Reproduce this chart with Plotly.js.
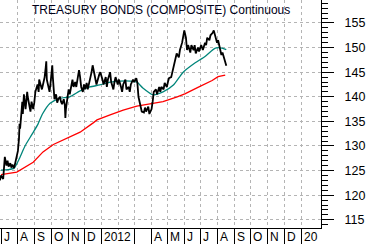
<!DOCTYPE html>
<html>
<head>
<meta charset="utf-8">
<script src="https://cdn.plot.ly/plotly-3.0.1.min.js"></script>
<style>html,body{margin:0;padding:0;background:#fff;}#chart{width:371px;height:244px;}</style>
</head>
<body>
<div id="chart"></div>
<script>
const chartTitle = 'TREASURY BONDS (COMPOSITE) Continuous';

const monthStarts = ['2011-07-01','2011-08-01','2011-09-01','2011-10-01','2011-11-01','2011-12-01',
  '2012-01-01','2012-02-01','2012-03-01','2012-04-01','2012-05-01','2012-06-01','2012-07-01',
  '2012-08-01','2012-09-01','2012-10-01','2012-11-01','2012-12-01','2013-01-01'];
const monthLabels = ['J','A','S','O','N','D','2012','','','A','M','J','J','A','S','O','N','D','20'];

const priceDates = ['2011-06-29','2011-07-01','2011-07-05','2011-07-07','2011-07-08','2011-07-11','2011-07-13','2011-07-15',
  '2011-07-18','2011-07-20','2011-07-22','2011-07-25','2011-07-27','2011-07-29','2011-08-01','2011-08-03','2011-08-04',
  '2011-08-05','2011-08-08','2011-08-09','2011-08-10','2011-08-11','2011-08-12','2011-08-15','2011-08-16','2011-08-18',
  '2011-08-19','2011-08-22','2011-08-24','2011-08-26','2011-08-29','2011-08-31','2011-09-02','2011-09-06','2011-09-08',
  '2011-09-09','2011-09-12','2011-09-14','2011-09-16','2011-09-19','2011-09-21','2011-09-22','2011-09-23','2011-09-26',
  '2011-09-28','2011-09-30','2011-10-03','2011-10-04','2011-10-05','2011-10-07','2011-10-10','2011-10-12','2011-10-14',
  '2011-10-17','2011-10-19','2011-10-21','2011-10-24','2011-10-26','2011-10-27','2011-10-28','2011-10-31','2011-11-02',
  '2011-11-04','2011-11-07','2011-11-09','2011-11-11','2011-11-14','2011-11-16','2011-11-18','2011-11-21','2011-11-23',
  '2011-11-25','2011-11-28','2011-11-30','2011-12-02','2011-12-05','2011-12-07','2011-12-09','2011-12-12','2011-12-14',
  '2011-12-16','2011-12-19','2011-12-21','2011-12-23','2011-12-28','2011-12-30','2012-01-03','2012-01-05','2012-01-09',
  '2012-01-11','2012-01-13','2012-01-17','2012-01-19','2012-01-23','2012-01-25','2012-01-27','2012-01-31','2012-02-02',
  '2012-02-06','2012-02-08','2012-02-10','2012-02-14','2012-02-16','2012-02-20','2012-02-22','2012-02-24','2012-02-28',
  '2012-03-01','2012-03-05','2012-03-07','2012-03-09','2012-03-13','2012-03-15','2012-03-19','2012-03-21','2012-03-23',
  '2012-03-27','2012-03-29','2012-04-02','2012-04-04','2012-04-06','2012-04-10','2012-04-12','2012-04-16','2012-04-18',
  '2012-04-20','2012-04-24','2012-04-26','2012-04-30','2012-05-02','2012-05-04','2012-05-08','2012-05-10','2012-05-14',
  '2012-05-16','2012-05-18','2012-05-22','2012-05-24','2012-05-28','2012-05-30','2012-06-01','2012-06-04','2012-06-06',
  '2012-06-08','2012-06-12','2012-06-14','2012-06-18','2012-06-20','2012-06-22','2012-06-26','2012-06-28','2012-07-02',
  '2012-07-05','2012-07-09','2012-07-11','2012-07-13','2012-07-17','2012-07-19','2012-07-23','2012-07-25','2012-07-27',
  '2012-07-31','2012-08-02','2012-08-06','2012-08-08','2012-08-10','2012-08-14','2012-08-16','2012-08-17'];
const priceValues = [123.0,124.0,123.3,125.5,127.8,126.0,127.0,125.8,
  126.5,125.6,126.2,125.5,126.4,127.5,129.0,131.5,134.5,
  133.5,137.5,139.0,136.5,138.0,140.5,137.5,139.5,141.0,
  140.0,138.0,137.0,139.0,137.5,138.8,141.0,142.5,141.0,
  143.5,142.0,141.5,142.5,144.0,146.0,147.2,143.5,142.0,
  141.0,143.0,146.4,144.0,141.5,139.5,140.5,138.8,139.5,
  140.0,139.0,138.5,139.5,138.3,135.7,137.5,140.0,141.5,
  140.5,142.0,143.5,142.0,143.0,142.0,143.8,145.4,144.0,
  142.0,141.0,142.5,141.5,142.8,141.5,142.5,143.5,145.0,
  146.4,144.5,143.0,142.5,144.5,145.0,143.5,142.5,144.0,
  142.0,143.5,145.0,143.0,141.5,143.0,144.0,142.5,143.5,
  142.0,141.0,142.5,143.5,141.5,142.0,141.0,142.5,143.5,
  143.0,143.8,142.8,140.0,138.0,137.0,136.8,137.8,137.0,
  138.0,136.5,137.5,139.0,141.0,141.5,140.5,142.0,141.0,
  142.0,141.5,142.8,142.0,143.0,143.8,144.0,145.0,146.5,
  148.0,148.8,148.0,149.5,151.0,152.5,153.5,152.0,149.5,
  150.5,149.0,150.5,149.5,150.5,148.8,150.0,149.2,150.5,
  149.5,151.0,150.5,152.0,151.5,152.5,153.0,153.5,152.5,
  151.0,151.5,149.5,148.5,149.0,147.5,146.8,146.3];

const ma50Dates = ['2011-07-01','2011-07-14','2011-07-25','2011-08-04','2011-08-14','2011-08-27','2011-09-07','2011-09-15',
  '2011-09-29','2011-10-17','2011-11-04','2011-11-23','2011-12-11','2011-12-29','2012-01-17','2012-02-04','2012-02-23',
  '2012-03-06','2012-03-17','2012-04-05','2012-04-23','2012-05-12','2012-05-30','2012-06-21','2012-07-09','2012-07-28',
  '2012-08-09','2012-08-17'];
const ma50Values = [125.1,125.2,125.5,127.5,130.0,132.4,134.5,136.5,
  138.7,139.7,140.0,141.2,142.0,142.4,143.0,143.2,143.2,
  143.0,141.8,140.4,141.0,142.4,145.0,146.9,148.2,149.9,
  149.9,149.6];

const ma200Dates = ['2011-07-01','2011-07-30','2011-08-29','2011-09-16','2011-10-05','2011-10-30','2011-11-23','2011-12-17',
  '2011-12-24','2012-01-17','2012-02-10','2012-03-06','2012-03-30','2012-04-23','2012-05-19','2012-06-02','2012-06-26',
  '2012-07-22','2012-08-02','2012-08-15'];
const ma200Values = [124.2,124.7,126.7,128.8,130.3,131.6,132.8,134.7,
  135.3,136.3,137.3,138.1,138.5,139.0,140.0,140.6,141.9,
  143.3,144.1,144.4];

const FONT = 'Liberation Sans, Arial, sans-serif';

const traces = [
  {x: ma200Dates, y: ma200Values, type: 'scatter', mode: 'lines', line: {color: '#ff0000', width: 1.3}, hoverinfo: 'skip'},
  {x: ma50Dates, y: ma50Values, type: 'scatter', mode: 'lines', line: {color: '#00857a', width: 1.3, shape: 'spline', smoothing: 0.6}, hoverinfo: 'skip'},
  {x: priceDates, y: priceValues, type: 'scatter', mode: 'lines', line: {color: '#000000', width: 1.8}, hoverinfo: 'skip'}
];

const annotations = [{
  text: chartTitle, xref: 'paper', yref: 'paper', x: 0.094, y: 1, xanchor: 'left', yanchor: 'top',
  yshift: -1, showarrow: false, font: {family: FONT, size: 12, color: '#000018'}
}];
monthStarts.forEach((d, i) => {
  if (monthLabels[i]) {
    annotations.push({
      text: monthLabels[i], xref: 'x', yref: 'paper', x: d, y: 0, xanchor: 'left', yanchor: 'top',
      xshift: 1.5, yshift: -1, showarrow: false, bgcolor: '#ffffff', borderpad: 0,
      font: {family: FONT, size: 12, color: '#000'}
    });
  }
});

const layout = {
  width: 371, height: 244,
  margin: {l: 0, r: 50, t: 0, b: 16, pad: 0},
  paper_bgcolor: '#ffffff', plot_bgcolor: '#ffffff',
  showlegend: false,
  font: {family: FONT, size: 12, color: '#000'},
  xaxis: {
    type: 'date', range: ['2011-06-29 04:00', '2013-02-06 14:00'],
    tickmode: 'array', tickvals: monthStarts, showticklabels: false,
    ticks: 'outside', ticklen: 15, tickwidth: 1, tickcolor: '#000',
    showgrid: true, gridcolor: '#b4b4b4', griddash: '3px,3px', gridwidth: 1,
    showline: true, linecolor: '#000', linewidth: 1, zeroline: false, fixedrange: true
  },
  yaxis: {
    side: 'right', range: [113.33, 159.67],
    tickmode: 'linear', tick0: 0, dtick: 5,
    ticks: 'outside', ticklen: 12, tickwidth: 1, tickcolor: '#000',
    minor: {tickmode: 'linear', tick0: 0, dtick: 1, ticks: 'outside', ticklen: 6, tickcolor: '#000', tickwidth: 1, showgrid: false},
    showgrid: true, gridcolor: '#b4b4b4', griddash: '3px,3px', gridwidth: 1,
    showline: true, linecolor: '#000', linewidth: 1, zeroline: false,
    tickfont: {family: FONT, size: 12.5, color: '#000'}, ticklabelstandoff: 8, fixedrange: true
  },
  annotations: annotations
};

Plotly.newPlot('chart', traces, layout, {displayModeBar: false, staticPlot: true});
</script>
</body>
</html>
